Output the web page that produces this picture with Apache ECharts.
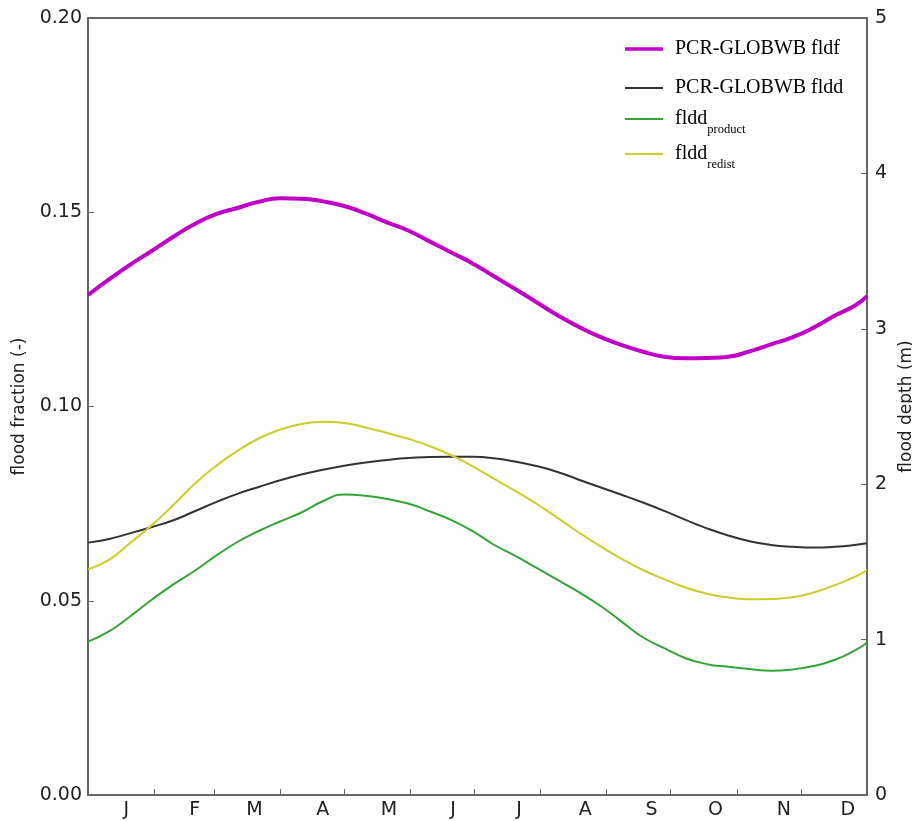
<!DOCTYPE html>
<html>
<head>
<meta charset="utf-8">
<script src="https://cdn.jsdelivr.net/npm/echarts@6/dist/echarts.min.js"></script>
<style>
html,body{margin:0;padding:0;background:#fff;}
#chart{width:912px;height:821px;}
</style>
</head>
<body>
<div id="chart"></div>
<script>
// Day of year for each sample
const days = [0,10,20,30,40,50,60,70,80,90,100,110,120,130,140,150,160,170,180,190,200,210,220,230,240,250,260,270,280,290,300,310,320,330,340,350,360,365];

// PCR-GLOBWB fldf (flood fraction, left axis)
const fldf = [0.1287,0.1328,0.1366,0.1401,0.1437,0.1470,0.1495,0.1511,0.1527,0.1536,0.1535,0.1528,0.1516,0.1497,0.1474,0.1453,0.1425,0.1397,0.1369,0.1336,0.1303,0.1269,0.1235,0.1205,0.1179,0.1158,0.1141,0.1128,0.1124,0.1125,0.1128,0.1142,0.1160,0.1178,0.1203,0.1234,0.1262,0.1284];

// PCR-GLOBWB fldd (flood depth m, right axis)
const fldd = [1.624,1.648,1.685,1.725,1.768,1.826,1.885,1.938,1.982,2.025,2.062,2.093,2.119,2.140,2.156,2.169,2.175,2.177,2.176,2.167,2.146,2.117,2.079,2.029,1.980,1.932,1.882,1.828,1.770,1.716,1.670,1.633,1.609,1.597,1.592,1.597,1.610,1.620];

// fldd_product (right axis)
const flddProduct = [0.987,1.054,1.152,1.258,1.355,1.443,1.540,1.628,1.699,1.760,1.818,1.890,1.934,1.926,1.905,1.876,1.826,1.771,1.700,1.612,1.540,1.463,1.384,1.305,1.218,1.116,1.015,0.945,0.880,0.842,0.825,0.811,0.800,0.808,0.830,0.870,0.936,0.980];

// fldd_redist (right axis)
const flddRedist = [1.452,1.515,1.625,1.737,1.866,2.003,2.117,2.214,2.294,2.351,2.387,2.402,2.394,2.365,2.330,2.292,2.246,2.188,2.117,2.037,1.959,1.876,1.783,1.689,1.601,1.519,1.448,1.388,1.335,1.295,1.271,1.259,1.261,1.272,1.303,1.351,1.409,1.448];

// x axis ticks / labels
const monthStarts = [31,59,90,120,151,181,212,243,273,304,334];
const labelDays = [18,50,78,110,141,171,202,233,264,294,326,356];
const monthLetters = ['J','F','M','A','M','J','J','A','S','O','N','D'];

const seriesNames = ['PCR-GLOBWB fldf','PCR-GLOBWB fldd','fldd_product','fldd_redist'];

const chart = echarts.init(document.getElementById('chart'), null, {renderer:'canvas'});

const axisColor = '#666';
const labelFont = {fontFamily:'DejaVu Sans', fontSize:19, color:'#222'};

function pairs(arr){ return days.map((d,i)=>[d, arr[i]]); }

const serif = 'Liberation Serif';
const richStyles = {
  m:{fontFamily:serif, fontSize:20, color:'#000', lineHeight:20},
  s:{fontFamily:serif, fontSize:12.5, color:'#000', lineHeight:12, padding:[21,0,0,0]}
};
function legendFmt(name){
  if(name==='fldd_product') return '{m|fldd}{s|product}';
  if(name==='fldd_redist') return '{m|fldd}{s|redist}';
  return '{m|'+name+'}';
}
const legendTops = [34, 73, 97, 132];
const legendIconH = [3.5, 2, 2, 2];
const legends = seriesNames.map((n,i)=>({
  data:[n],
  left:620,
  top:legendTops[i],
  icon:'rect',
  itemWidth:38,
  itemHeight:legendIconH[i],
  selectedMode:false,
  formatter:legendFmt,
  textStyle:{rich:richStyles, padding:[0,0,0,7]}
}));

chart.setOption({
  animation:false,
  backgroundColor:'#fff',
  grid:{left:88,right:45,top:18,bottom:26,show:true,borderColor:axisColor,borderWidth:2,containLabel:false,outerBoundsMode:'none'},
  legend:legends,
  xAxis:{
    type:'value',min:0,max:365,
    axisLine:{show:true,onZero:false,lineStyle:{color:axisColor,width:2}},
    axisTick:{show:true,inside:true,length:6,customValues:monthStarts,lineStyle:{color:axisColor,width:1}},
    axisLabel:Object.assign({margin:6,customValues:labelDays,formatter:function(v){var k=labelDays.indexOf(v);return k>=0?monthLetters[k]:'';}}, labelFont),
    splitLine:{show:false}
  },
  yAxis:[
    {
      type:'value',min:0,max:0.2,interval:0.05,position:'left',
      name:'flood fraction (-)',nameLocation:'middle',nameGap:60,
      nameTextStyle:{fontFamily:'DejaVu Sans',fontSize:17,color:'#222'},
      axisLine:{show:true,onZero:false,lineStyle:{color:axisColor,width:2}},
      axisTick:{show:true,inside:true,length:6,lineStyle:{color:axisColor}},
      axisLabel:Object.assign({margin:6,formatter:function(v){return v.toFixed(2);}}, labelFont),
      splitLine:{show:false}
    },
    {
      type:'value',min:0,max:5,interval:1,position:'right',
      name:'flood depth (m)',nameLocation:'middle',nameGap:28,
      nameTextStyle:{fontFamily:'DejaVu Sans',fontSize:17,color:'#222'},
      axisLine:{show:true,onZero:false,lineStyle:{color:axisColor,width:2}},
      axisTick:{show:true,inside:true,length:6,lineStyle:{color:axisColor}},
      axisLabel:Object.assign({margin:8}, labelFont),
      splitLine:{show:false}
    }
  ],
  series:[
    {name:seriesNames[0],type:'line',yAxisIndex:0,data:pairs(fldf),smooth:0.5,symbol:'none',lineStyle:{color:'#c000c8',width:4},itemStyle:{color:'#c000c8'}},
    {name:seriesNames[1],type:'line',yAxisIndex:1,data:pairs(fldd),smooth:0.5,symbol:'none',lineStyle:{color:'#333333',width:2},itemStyle:{color:'#333333'}},
    {name:seriesNames[2],type:'line',yAxisIndex:1,data:pairs(flddProduct),smooth:0.5,symbol:'none',lineStyle:{color:'#34a434',width:2},itemStyle:{color:'#34a434'}},
    {name:seriesNames[3],type:'line',yAxisIndex:1,data:pairs(flddRedist),smooth:0.5,symbol:'none',lineStyle:{color:'#cccc2a',width:2},itemStyle:{color:'#cccc2a'}}
  ]
});
</script>
</body>
</html>
